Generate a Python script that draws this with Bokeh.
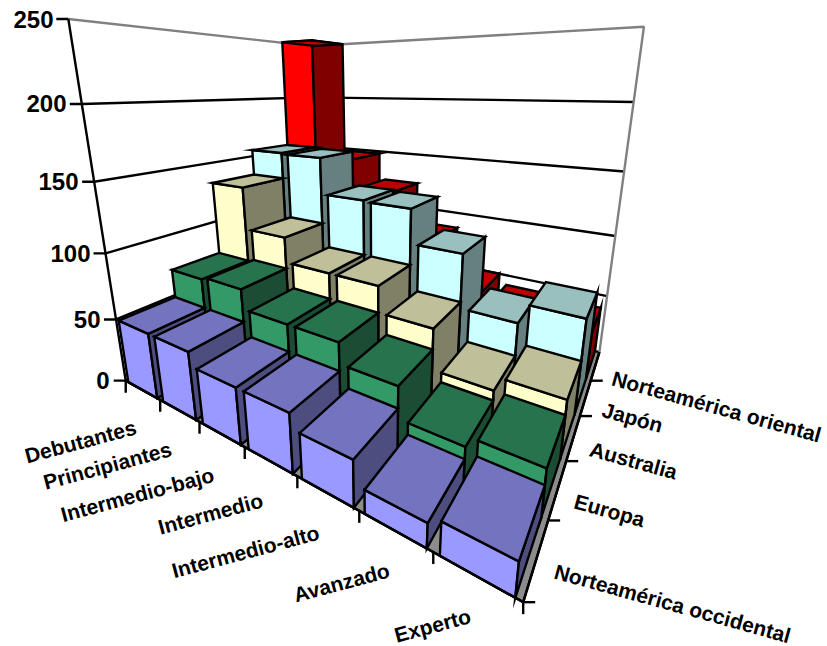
import numpy as np
from bokeh.plotting import figure
from bokeh.models import Range1d
from bokeh.core.properties import value
from bokeh.embed import file_html
from bokeh.resources import INLINE

# Chart data
niveles = ["Debutantes", "Principiantes", "Intermedio-bajo", "Intermedio",
           "Intermedio-alto", "Avanzado", "Experto"]
regiones = ["Norteamérica occidental", "Europa", "Australia", "Japón",
            "Norteamérica oriental"]
na_occidental = [50, 50, 40, 40, 30, 15, 20]
europa = [73, 75, 60, 60, 45, 23, 30]
australia = [134, 100, 80, 80, 60, 30, 40]
japon = [156, 155, 125, 124, 97, 55, 70]
na_oriental = [250, 148, 123, 86, 50, 41, 39]
series = [na_occidental, europa, australia, japon, na_oriental]
valores_eje = [0, 50, 100, 150, 200, 250]

# Face colours per series: front, top (75%) and side (50%)
cara_frontal = ["#9999FF", "#339966", "#FFFFCC", "#CCFFFF", "#FF0000"]
cara_superior = ["#7373BF", "#26734D", "#BFBF99", "#99BFBF", "#BF0000"]
cara_lateral = ["#4D4D80", "#1A4D33", "#808066", "#668080", "#800000"]

# Perspective camera: (category, series, value / 50, 1) -> homogeneous pixels
CAMARA = np.array([[24.663, 73.010, -13.998, 125.228],
                   [-5.328, 9.287, -73.016, 380.159],
                   [-0.06145, 0.10741, -0.03708, 1.0]])
GAP = 0.08
N_CAT, N_SER = len(niveles), len(regiones)


def proy(x, y, z):
    w = CAMARA @ np.array([x, y, z / 50.0, 1.0])
    return w[0] / w[2], w[1] / w[2]


def poligono(puntos):
    xy = [proy(*q) for q in puntos]
    return [a for a, _ in xy], [b for _, b in xy]


p = figure(width=827, height=646, output_backend="svg", toolbar_location=None,
           x_range=Range1d(0, 827), y_range=Range1d(646, 0),
           min_border=0, outline_line_color=None, background_fill_color="white")
p.axis.visible = False
p.grid.visible = False

TOP = valores_eje[-1]
LW = 2.4

# Floor
xs, ys = poligono([(0, 0, 0), (N_CAT, 0, 0), (N_CAT, N_SER, 0), (0, N_SER, 0)])
p.patch(xs, ys, fill_color="#8C8C8C", line_color="black", line_width=LW)

# Gridlines on both walls
for v in valores_eje[1:-1]:
    xs, ys = poligono([(0, 0, v), (0, N_SER, v), (N_CAT, N_SER, v)])
    p.line(xs, ys, line_color="black", line_width=LW)

# Wall outlines
xs, ys = poligono([(0, 0, TOP), (0, N_SER, TOP), (N_CAT, N_SER, TOP), (N_CAT, N_SER, 0)])
p.line(xs, ys, line_color="#808080", line_width=LW)
xs, ys = poligono([(0, 0, 0), (0, 0, TOP)])
p.line(xs, ys, line_color="black", line_width=LW)

# Bars, painted back to front
for s in range(N_SER - 1, -1, -1):
    for c in range(N_CAT):
        v = series[s][c]
        x0, x1, y0, y1 = c + GAP, c + 1 - GAP, s, s + 1
        caras = [
            ([(x0, y0, 0), (x1, y0, 0), (x1, y0, v), (x0, y0, v)], cara_frontal[s]),
            ([(x1, y0, 0), (x1, y1, 0), (x1, y1, v), (x1, y0, v)], cara_lateral[s]),
            ([(x0, y0, v), (x1, y0, v), (x1, y1, v), (x0, y1, v)], cara_superior[s]),
        ]
        for puntos, color in caras:
            xs, ys = poligono(puntos)
            p.patch(xs, ys, fill_color=color, line_color="black", line_width=LW,
                    line_join="miter")

# Front floor edges, drawn over the bar bases
xs, ys = poligono([(0, 0, 0), (N_CAT, 0, 0), (N_CAT, N_SER, 0)])
p.line(xs, ys, line_color="black", line_width=LW)

# Tick marks
TICK = 12
for v in valores_eje:
    a, b = proy(0, 0, v)
    p.line([a - TICK, a], [b, b], line_color="black", line_width=LW)
for c in range(N_CAT + 1):
    a, b = proy(c, 0, 0)
    p.line([a, a], [b, b + TICK], line_color="black", line_width=LW)
for s in range(N_SER):
    a, b = proy(N_CAT, s, 0)
    p.line([a, a + TICK], [b, b], line_color="black", line_width=LW)

# Axis labels
FUENTE = value("Liberation Sans")
derecha_valor = [109, 100, 90, 78, 66, 53]
for v, xr in zip(valores_eje, derecha_valor):
    _, b = proy(0, 0, v)
    p.text([xr], [b], text=[str(v)], text_font=FUENTE, text_font_style="bold",
           text_font_size="24px", text_align="right", text_baseline="middle")

centro_nivel = [(80, 441), (107, 465), (137, 494), (210, 513), (245, 551), (341, 582), (432, 625)]
for t, (a, b) in zip(niveles, centro_nivel):
    p.text([a], [b], text=[t], text_font=FUENTE, text_font_style="bold", text_font_size="21px",
           text_align="center", text_baseline="middle", angle=np.radians(15))

centro_region = [(672, 603), (609, 510), (633, 460), (632, 417), (716, 406)]
for t, (a, b) in zip(regiones, centro_region):
    p.text([a], [b], text=[t], text_font=FUENTE, text_font_style="bold", text_font_size="21px",
           text_align="center", text_baseline="middle", angle=np.radians(-15.5))

open("out.html", "w").write(file_html(p, INLINE))
